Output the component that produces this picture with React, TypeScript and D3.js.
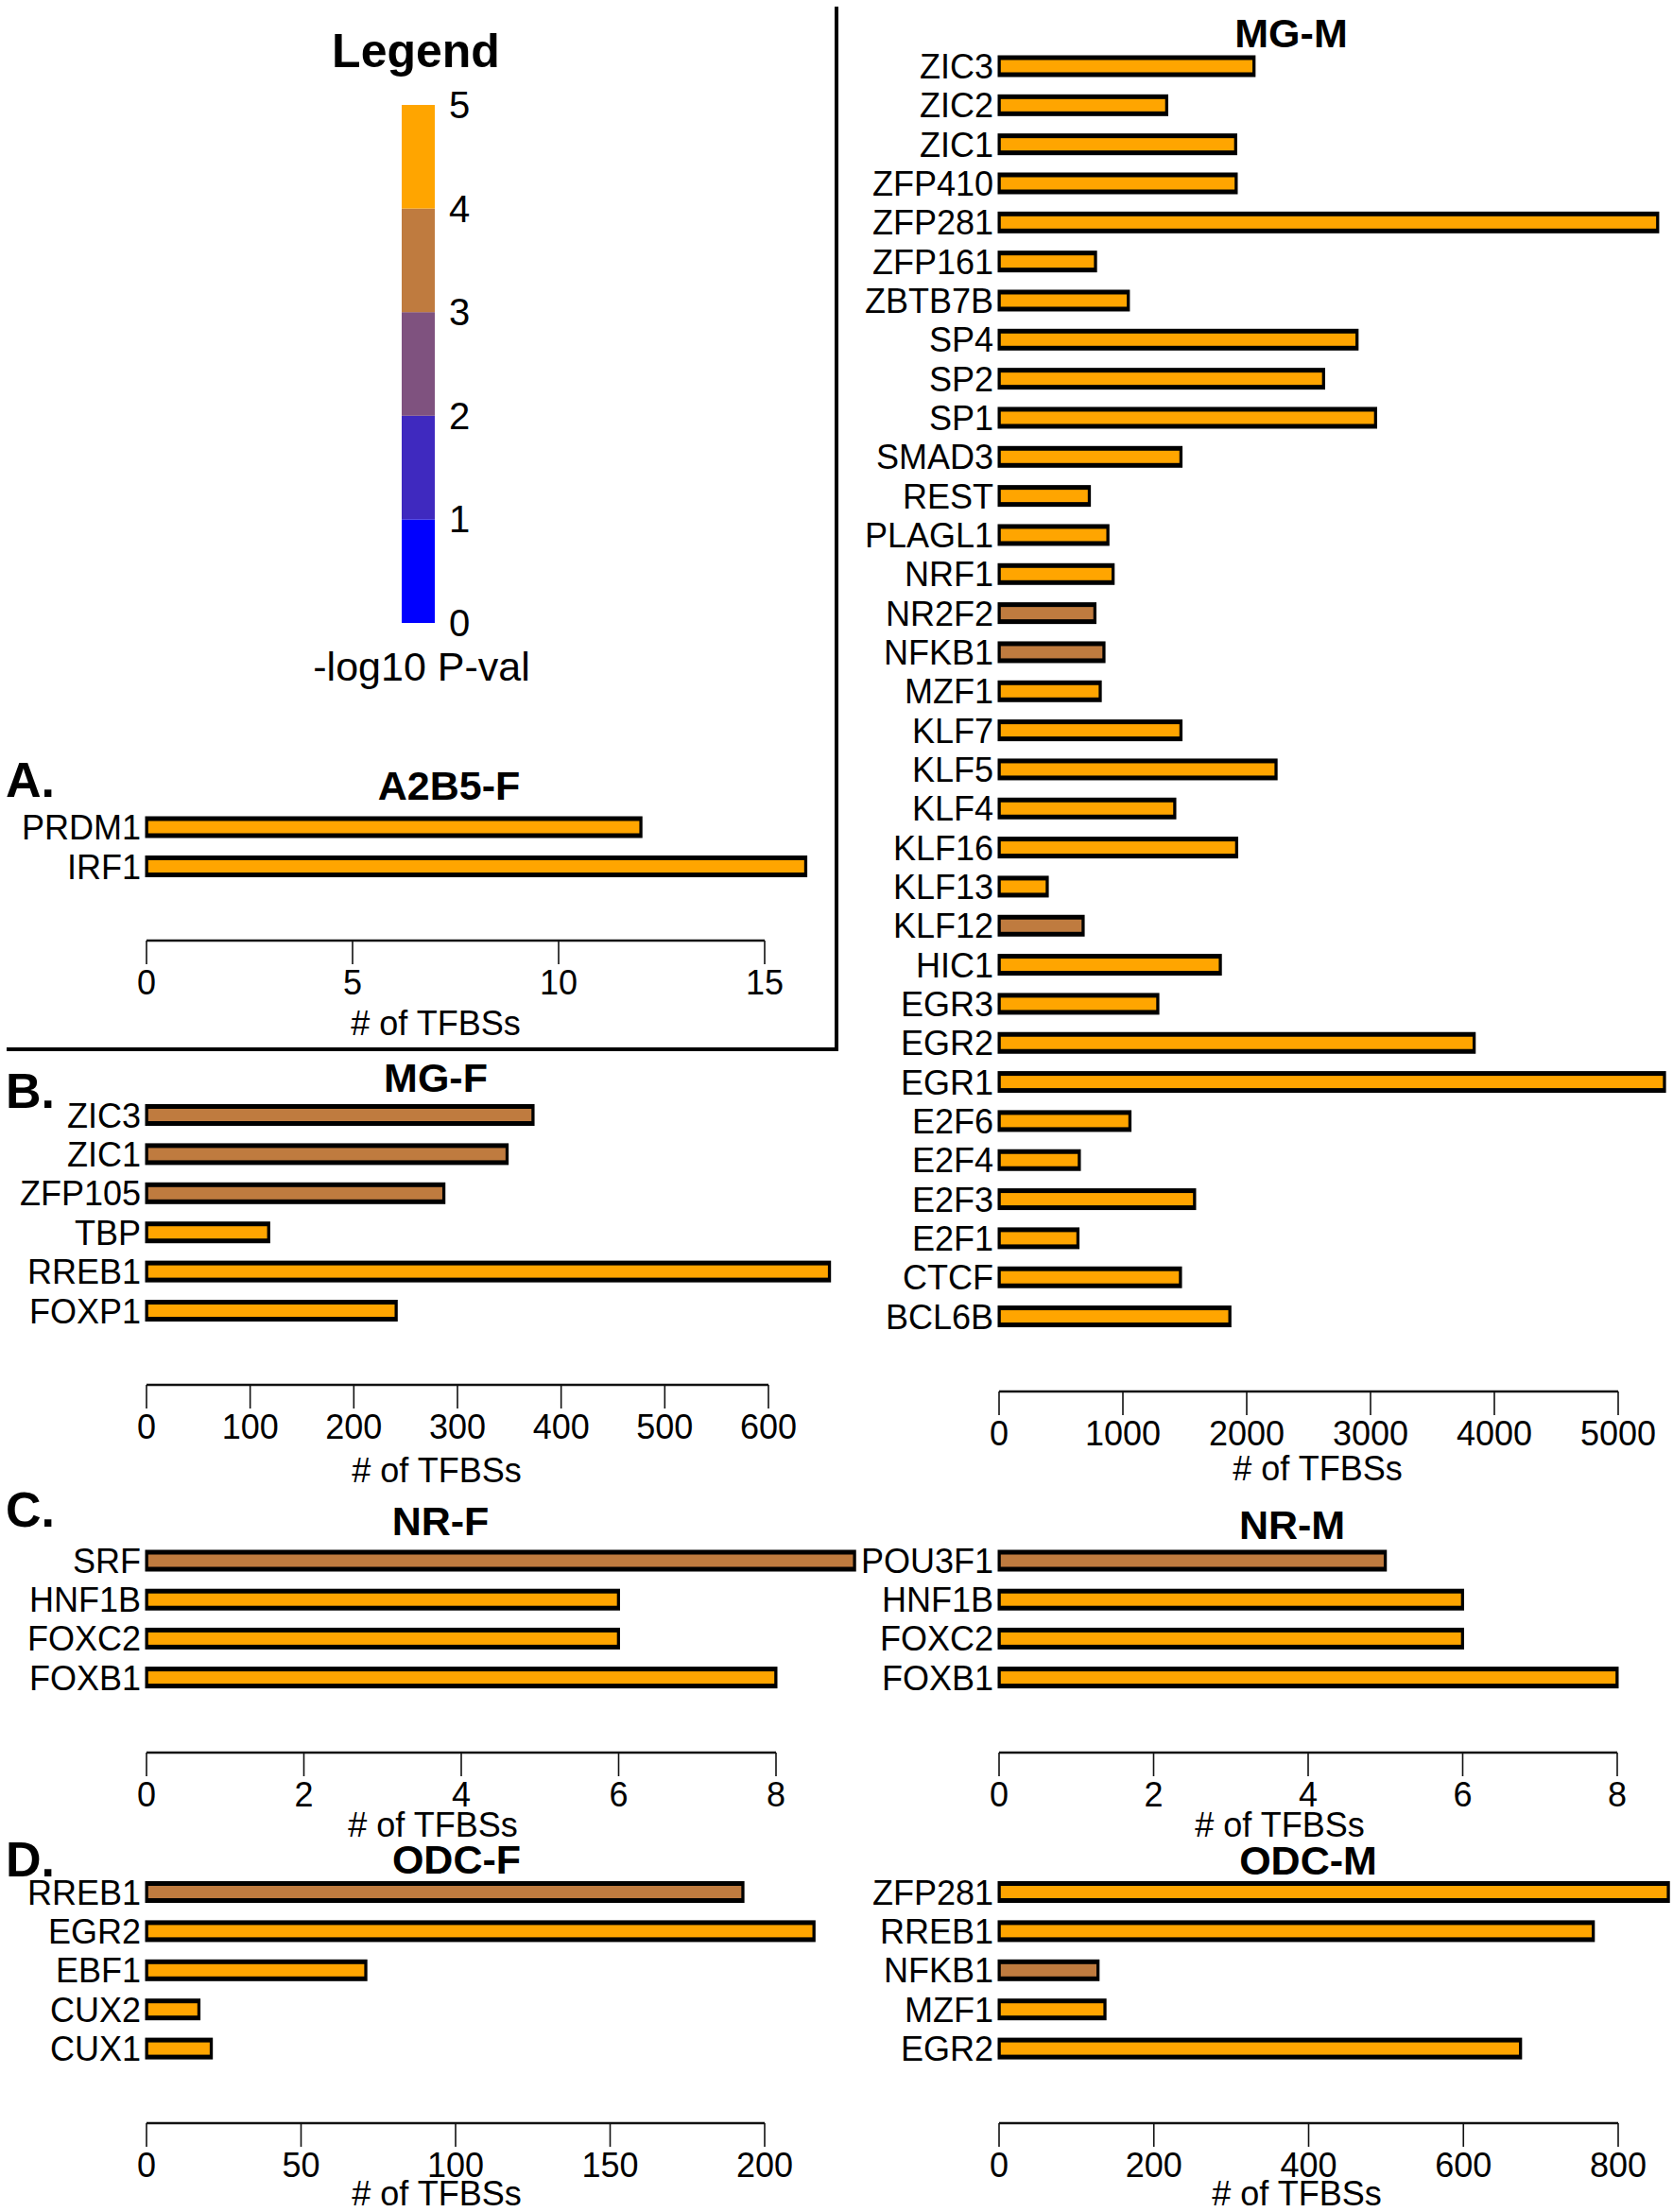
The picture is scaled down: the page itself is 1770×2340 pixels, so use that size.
import React from 'react';
import * as d3 from 'd3';

// ---- data ----
const legendTicks = [0, 1, 2, 3, 4, 5];
const legendColors = ['#0000FF', '#3F29BF', '#7F527F', '#BF7B3F', '#FFA500'];

const a2b5Genes = ['PRDM1', 'IRF1'];
const a2b5Counts = [12, 16];
const a2b5Level = [4, 4];
const a2b5Ticks = [0, 5, 10, 15];

const mgfGenes = ['ZIC3', 'ZIC1', 'ZFP105', 'TBP', 'RREB1', 'FOXP1'];
const mgfCounts = [373, 348, 287, 118, 659, 241];
const mgfLevel = [3, 3, 3, 4, 4, 4];
const mgfTicks = [0, 100, 200, 300, 400, 500, 600];

const mgmGenes = ['ZIC3', 'ZIC2', 'ZIC1', 'ZFP410', 'ZFP281', 'ZFP161', 'ZBTB7B', 'SP4', 'SP2', 'SP1',
  'SMAD3', 'REST', 'PLAGL1', 'NRF1', 'NR2F2', 'NFKB1', 'MZF1', 'KLF7', 'KLF5', 'KLF4', 'KLF16',
  'KLF13', 'KLF12', 'HIC1', 'EGR3', 'EGR2', 'EGR1', 'E2F6', 'E2F4', 'E2F3', 'E2F1', 'CTCF', 'BCL6B'];
const mgmCounts = [2060, 1355, 1912, 1916, 5320, 780, 1045, 2892, 2622, 3042,
  1470, 730, 880, 922, 775, 848, 818, 1470, 2238, 1420, 1920,
  390, 680, 1788, 1283, 3838, 5375, 1058, 649, 1580, 638, 1466, 1865];
const mgmLevel = [4, 4, 4, 4, 4, 4, 4, 4, 4, 4, 4, 4, 4, 4, 3, 3, 4, 4, 4, 4, 4,
  4, 3, 4, 4, 4, 4, 4, 4, 4, 4, 4, 4];
const mgmTicks = [0, 1000, 2000, 3000, 4000, 5000];

const nrfGenes = ['SRF', 'HNF1B', 'FOXC2', 'FOXB1'];
const nrfCounts = [9, 6, 6, 8];
const nrfLevel = [3, 4, 4, 4];
const nrfTicks = [0, 2, 4, 6, 8];

const nrmGenes = ['POU3F1', 'HNF1B', 'FOXC2', 'FOXB1'];
const nrmCounts = [5, 6, 6, 8];
const nrmLevel = [3, 4, 4, 4];
const nrmTicks = [0, 2, 4, 6, 8];

const odcfGenes = ['RREB1', 'EGR2', 'EBF1', 'CUX2', 'CUX1'];
const odcfCounts = [193, 216, 71, 17, 21];
const odcfLevel = [3, 4, 4, 4, 4];
const odcfTicks = [0, 50, 100, 150, 200];

const odcmGenes = ['ZFP281', 'RREB1', 'NFKB1', 'MZF1', 'EGR2'];
const odcmCounts = [865, 768, 128, 137, 674];
const odcmLevel = [4, 4, 3, 4, 4];
const odcmTicks = [0, 200, 400, 600, 800];

const xLabel = '# of TFBSs';

// ---- layout ----
const W = 1770;
const H = 2340;
const FONT = '"Liberation Sans", Arial, Helvetica, sans-serif';

const panels = [
  { title: 'A2B5-F', letter: 'A.', letterY: 843, genes: a2b5Genes, counts: a2b5Counts, level: a2b5Level, ticks: a2b5Ticks,
    x0: 155, x1: 809, y0: 875, step: 41.5, axisY: 995, titleX: 475, titleY: 846, xlabX: 461, xlabY: 1095 },
  { title: 'MG-F', letter: 'B.', letterY: 1172, genes: mgfGenes, counts: mgfCounts, level: mgfLevel, ticks: mgfTicks,
    x0: 155, x1: 813, y0: 1179.5, step: 41.4, axisY: 1465, titleX: 461, titleY: 1155, xlabX: 462, xlabY: 1568 },
  { title: 'MG-M', genes: mgmGenes, counts: mgmCounts, level: mgmLevel, ticks: mgmTicks,
    x0: 1057, x1: 1712, y0: 70, step: 41.33, axisY: 1472, titleX: 1366, titleY: 50, xlabX: 1394, xlabY: 1566 },
  { title: 'NR-F', letter: 'C.', letterY: 1615, genes: nrfGenes, counts: nrfCounts, level: nrfLevel, ticks: nrfTicks,
    x0: 155, x1: 821, y0: 1651, step: 41.2, axisY: 1854, titleX: 466, titleY: 1624, xlabX: 458, xlabY: 1943 },
  { title: 'NR-M', genes: nrmGenes, counts: nrmCounts, level: nrmLevel, ticks: nrmTicks,
    x0: 1057, x1: 1711, y0: 1651, step: 41.2, axisY: 1854, titleX: 1367, titleY: 1628, xlabX: 1354, xlabY: 1943 },
  { title: 'ODC-F', letter: 'D.', letterY: 1985, genes: odcfGenes, counts: odcfCounts, level: odcfLevel, ticks: odcfTicks,
    x0: 155, x1: 809, y0: 2001.5, step: 41.4, axisY: 2246, titleX: 483, titleY: 1982, xlabX: 462, xlabY: 2333 },
  { title: 'ODC-M', genes: odcmGenes, counts: odcmCounts, level: odcmLevel, ticks: odcmTicks,
    x0: 1057, x1: 1712, y0: 2001.5, step: 41.4, axisY: 2246, titleX: 1384, titleY: 1983, xlabX: 1372, xlabY: 2333 },
];

function Legend() {
  const y = d3.scaleLinear().domain([0, 5]).range([659, 111]);
  return (
    <g>
      <text x={440} y={71} textAnchor="middle" fontSize={50} fontWeight="bold">Legend</text>
      {legendColors.map((c, i) => (
        <rect key={i} x={425} width={35} y={y(i + 1)} height={y(i) - y(i + 1)} fill={c} />
      ))}
      {legendTicks.map((t) => (
        <text key={t} x={475} y={y(t) + 14} fontSize={40}>{t}</text>
      ))}
      <text x={446} y={720} textAnchor="middle" fontSize={43}>-log10 P-val</text>
    </g>
  );
}

function BarPanel({ p }: { p: any }) {
  const x = d3.scaleLinear().domain([0, d3.max(p.ticks) as number]).range([p.x0, p.x1]);
  const y = d3.scalePoint<string>().domain(p.genes).range([p.y0, p.y0 + p.step * (p.genes.length - 1)]);
  const half = 11.5;
  return (
    <g>
      {p.letter && <text x={6} y={p.letterY} fontSize={52} fontWeight="bold">{p.letter}</text>}
      <text x={p.titleX} y={p.titleY} textAnchor="middle" fontSize={43} fontWeight="bold">{p.title}</text>
      {p.genes.map((g: string, i: number) => {
        const cy = y(g) as number;
        const xe = x(p.counts[i]);
        return (
          <g key={g}>
            <text x={x(0) - 6} y={cy + 13} textAnchor="end" fontSize={36}>{g}</text>
            <rect x={x(0) - 1.5} y={cy - half} width={xe - x(0) + 3} height={half * 2} fill="#000" />
            <rect x={x(0) + 1.8} y={cy - half + 5} width={xe - x(0) - 3.6} height={half * 2 - 10}
              fill={legendColors[p.level[i]]} />
          </g>
        );
      })}
      <line x1={x(0)} x2={x(d3.max(p.ticks) as number)} y1={p.axisY} y2={p.axisY} stroke="#111" strokeWidth={2.6} />
      {p.ticks.map((t: number) => (
        <g key={t}>
          <line x1={x(t)} x2={x(t)} y1={p.axisY} y2={p.axisY + 25} stroke="#111" strokeWidth={1.6} />
          <text x={x(t)} y={p.axisY + 57} textAnchor="middle" fontSize={36}>{t}</text>
        </g>
      ))}
      <text x={p.xlabX} y={p.xlabY} textAnchor="middle" fontSize={36}>{xLabel}</text>
    </g>
  );
}

export default function App() {
  return (
    <svg width={W} height={H} style={{ position: 'absolute', left: 0, top: 0, background: '#fff' }}
      fontFamily={FONT}>
      <rect width={W} height={H} fill="#fff" />
      <Legend />
      {/* box round panel A and the legend */}
      <line x1={885} x2={885} y1={7} y2={1112} stroke="#000" strokeWidth={4} />
      <line x1={7} x2={887} y1={1110} y2={1110} stroke="#000" strokeWidth={4} />
      {panels.map((p) => <BarPanel key={p.title} p={p} />)}
    </svg>
  );
}
